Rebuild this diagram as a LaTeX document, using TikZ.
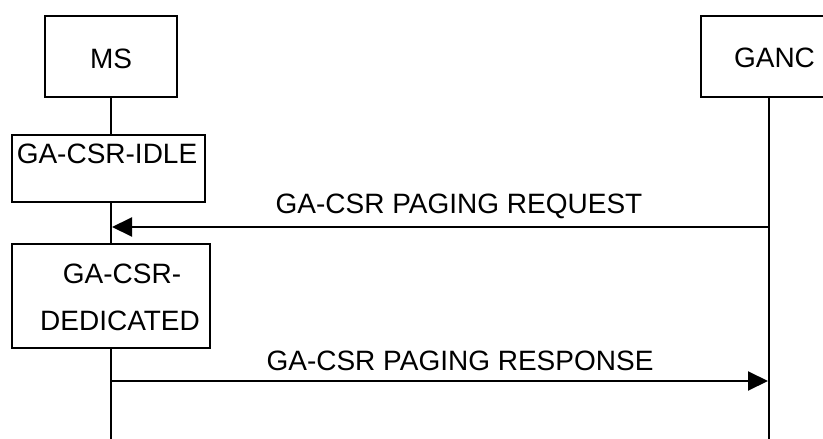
\documentclass[tikz,border=0pt]{standalone}
\usepackage{fontspec}
\setmainfont{Liberation Sans}
\usetikzlibrary{arrows.meta}
\begin{document}
\begin{tikzpicture}[x=1pt,y=-1pt,
  box/.style={draw=black,line width=1.5pt,rectangle,inner sep=0pt},
  txt/.style={inner sep=0pt,anchor=base,font=\fontsize{28}{47}\selectfont},
  life/.style={draw=black,line width=2pt},
  msg/.style={draw=black,line width=2pt,-{Triangle[length=20pt,width=19pt]}}]
\useasboundingbox (0,0) rectangle (823,439);
% entity boxes
\node[box,minimum width=132pt,minimum height=81pt] (ms) at (111,56.5) {};
\node[txt] (mst) at (111,68) {MS};
\node[box,minimum width=140pt,minimum height=81pt] (ganc) at (771,56.5) {};
\node[txt] (gt) at (774.5,67) {GANC};
% state boxes
\node[box,minimum width=193pt,minimum height=67pt] (idle) at (108.5,168.5) {};
\node[txt] (idlet) at (107,163) {GA-CSR-IDLE};
\node[box,minimum width=198pt,minimum height=104pt] (ded) at (111,296) {};
\node[txt] (dedt1) at (122,283) {GA-CSR-};
\node[txt] (dedt2) at (120,330) {DEDICATED};
% lifeline coordinates
\coordinate (msA) at (111,97);
\coordinate (msB) at (111,135);
\coordinate (msC) at (111,202);
\coordinate (msD) at (111,244);
\coordinate (msE) at (111,348);
\coordinate (msEnd) at (111,439);
\coordinate (gA) at (769,97);
\coordinate (gEnd) at (769,439);
\coordinate (req1) at (769,227);
\coordinate (req2) at (112,227);
\coordinate (res1) at (111,381);
\coordinate (res2) at (768,381);
% lifelines
\draw[life] (msA) -- (msB);
\draw[life] (msC) -- (msD);
\draw[life] (msE) -- (msEnd);
\draw[life] (gA) -- (gEnd);
% messages
\draw[msg] (req1) -- (req2);
\node[txt] (reqt) at (459,213) {GA-CSR PAGING REQUEST};
\draw[msg] (res1) -- (res2);
\node[txt] (rest) at (460,370) {GA-CSR PAGING RESPONSE};
\end{tikzpicture}
\end{document}
